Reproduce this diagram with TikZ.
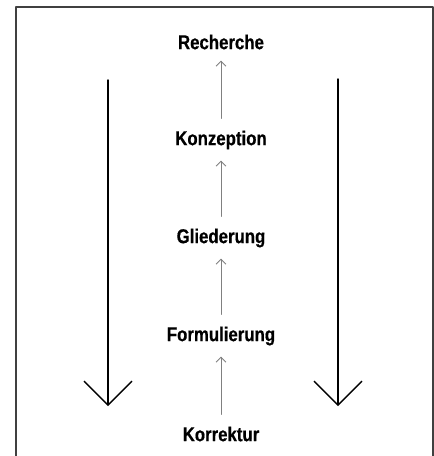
\documentclass[tikz,border=0pt]{standalone}
\usepackage{fontspec}
\newfontfamily\labelfont[FakeStretch=0.84,FakeBold=0.6]{Liberation Sans}
\usepackage{tikz}
\usetikzlibrary{positioning,arrows.meta}

\begin{document}
\begin{tikzpicture}[
				x=1pt,
				y=-1pt,
				line cap=round,
				line join=round,
				node distance=98pt,
				on grid,
				phase/.style={font=\labelfont\bfseries\fontsize{20}{20}\selectfont, inner sep=0pt},
				uparrow/.style={draw=black!50, line width=0.9pt, -{Straight Barb[length=5pt,width=10pt]}, shorten >=11pt, shorten <=12pt},
				bigarrow/.style={line width=1.4pt, -{Straight Barb[length=24pt,width=48pt,line width=1.3pt]}}
				]
				\useasboundingbox (0,0) rectangle (434,456);
				
				% frame
				\draw[line width=1.6pt, black!75] (16,456) -- (16,7) -- (433,7) -- (433,456);
				
				% steps
				\node[phase] (recherche) at (221,42) {Recherche};
				\node[phase, below=of recherche] (konzeption) {Konzeption};
				\node[phase, below=of konzeption] (gliederung) {Gliederung};
				\node[phase, below=of gliederung] (formulierung) {Formulierung};
				\node[phase, below=of formulierung] (korrektur) {Korrektur};
				
				\draw[uparrow] (konzeption) -- (recherche);
				\draw[uparrow] (gliederung) -- (konzeption);
				\draw[uparrow] (formulierung) -- (gliederung);
				\draw[uparrow] (korrektur) -- (formulierung);
				
				% big arrows
				\coordinate (L1) at (108,80);
				\coordinate (L2) at (108,406);
				\coordinate (R1) at (338,79);
				\coordinate (R2) at (338,406);
				\draw[bigarrow] (L1) -- (L2);
				\draw[bigarrow] (R1) -- (R2);
			\end{tikzpicture}
\end{document}
